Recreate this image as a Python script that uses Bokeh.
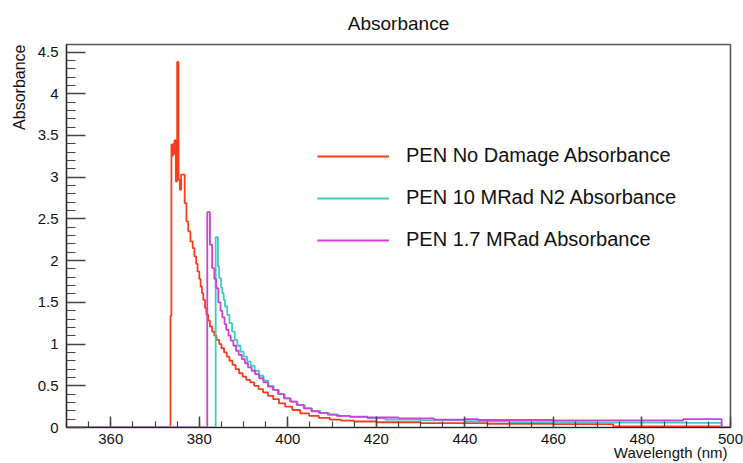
import numpy as np
from bokeh.plotting import figure
from bokeh.models import Range1d, FixedTicker, Legend, LegendItem, Title
from bokeh.embed import file_html
from bokeh.resources import INLINE

# ---- data (bin left edges in nm, absorbance per bin; last point closes the histogram) ----
red_nm = [350.0, 373.5, 373.7, 373.9, 374.1, 374.3, 374.4, 374.7, 375.0, 375.3, 375.6, 375.9,
          376.7, 377.1, 377.5, 378.0, 378.5, 378.9, 379.3, 379.6, 380.0, 380.3, 380.6, 380.9,
          381.3, 381.6, 382.0, 382.4, 382.9, 383.4, 383.9, 384.5, 385.0, 385.6, 386.2, 386.8,
          387.5, 388.2, 389.0, 389.8, 390.6, 391.5, 392.4, 393.4, 394.4, 395.5, 396.7, 398.0,
          399.4, 401.0, 402.8, 404.8, 407.0, 409.5, 412.0, 415.0, 420.0, 430.0, 445.0, 460.0,
          473.5, 498.0, 500.0]
red_abs = [0.0, 1.34, 3.39, 3.26, 3.40, 3.28, 3.44, 2.95, 4.38, 2.97, 2.85, 3.03,
           2.69, 2.47, 2.35, 2.23, 2.15, 2.05, 1.96, 1.87, 1.78, 1.69, 1.61, 1.53,
           1.43, 1.35, 1.28, 1.21, 1.15, 1.10, 1.05, 1.00, 0.95, 0.90, 0.85, 0.80,
           0.75, 0.70, 0.65, 0.61, 0.57, 0.54, 0.50, 0.46, 0.42, 0.38, 0.34, 0.29,
           0.25, 0.21, 0.17, 0.14, 0.115, 0.095, 0.082, 0.072, 0.063, 0.052, 0.045, 0.040,
           0.012, 0.0, 0.0]

cyan_nm = [350.0, 383.7, 384.2, 384.5, 384.9, 385.2, 385.5, 385.8, 386.3, 386.8, 387.4, 388.0,
           388.6, 389.3, 390.0, 390.8, 391.6, 392.5, 393.5, 394.5, 395.6, 396.8, 398.0, 399.3,
           400.7, 402.2, 403.8, 405.5, 407.3, 409.3, 411.5, 414.0, 418.0, 422.0, 430.0, 440.0,
           450.0, 470.0, 490.0, 498.0, 500.0]
cyan_abs = [0.0, 2.28, 1.93, 1.79, 1.68, 1.61, 1.53, 1.45, 1.35, 1.25, 1.15, 1.05,
            0.98, 0.91, 0.85, 0.79, 0.74, 0.68, 0.62, 0.56, 0.50, 0.45, 0.40, 0.35,
            0.31, 0.27, 0.23, 0.20, 0.175, 0.155, 0.14, 0.125, 0.11, 0.095, 0.085, 0.075,
            0.065, 0.060, 0.055, 0.0, 0.0]

mag_nm = [350.0, 381.8, 382.4, 382.9, 383.4, 383.8, 384.3, 384.8, 385.2, 385.7, 386.1, 386.6,
          387.1, 387.7, 388.3, 388.9, 389.6, 390.3, 391.0, 391.8, 392.6, 393.5, 394.5, 395.5,
          396.6, 397.8, 399.1, 400.5, 402.0, 403.6, 405.3, 407.0, 409.0, 411.0, 414.0, 418.0,
          425.0, 433.0, 440.0, 443.0, 460.0, 489.3, 498.0, 500.0]
mag_abs = [0.0, 2.58, 2.19, 1.91, 1.78, 1.67, 1.50, 1.40, 1.32, 1.24, 1.17, 1.10,
           1.04, 0.98, 0.92, 0.87, 0.82, 0.77, 0.72, 0.68, 0.64, 0.59, 0.54, 0.49,
           0.45, 0.40, 0.35, 0.31, 0.27, 0.23, 0.195, 0.175, 0.155, 0.14, 0.13, 0.12,
           0.11, 0.095, 0.10, 0.09, 0.085, 0.10, 0.0, 0.0]

series_names = ["PEN No Damage Absorbance", "PEN 10 MRad N2 Absorbance", "PEN 1.7 MRad Absorbance"]
series_colors = ["#fa3c1c", "#3ccdc2", "#d23ed8"]

x_ticks = [360, 380, 400, 420, 440, 460, 480, 500]
x_tick_labels = ["360", "380", "400", "420", "440", "460", "480", "500"]
y_ticks = [0, 0.5, 1, 1.5, 2, 2.5, 3, 3.5, 4, 4.5]
y_tick_labels = ["0", "0.5", "1", "1.5", "2", "2.5", "3", "3.5", "4", "4.5"]

FONT = "Liberation Sans"

p = figure(width=743, height=463, output_backend="svg", toolbar_location=None,
           x_range=Range1d(350, 500), y_range=Range1d(0, 4.59),
           min_border_left=66, min_border_right=13, min_border_top=43, min_border_bottom=36)
p.title.text = "Absorbance"
p.title.align = "center"
p.title.standoff = 21
p.title.text_font = FONT
p.title.text_font_size = "19px"
p.title.text_font_style = "normal"
p.title.text_color = "#111111"
p.grid.visible = False
p.background_fill_color = "white"
p.border_fill_color = "white"
p.outline_line_color = "#555555"
p.outline_line_width = 1.5

renderers = []
for xs, ys, col in [(red_nm, red_abs, series_colors[0]),
                    (cyan_nm, cyan_abs, series_colors[1]),
                    (mag_nm, mag_abs, series_colors[2])]:
    r = p.step(x=xs, y=ys, mode="after", line_color=col, line_width=1.8)
    renderers.append(r)

# axes
p.xaxis.ticker = FixedTicker(ticks=x_ticks, minor_ticks=list(np.arange(350, 501, 5)))
p.xaxis.major_label_overrides = {t: l for t, l in zip(x_ticks, x_tick_labels)}
p.yaxis.ticker = FixedTicker(ticks=y_ticks, minor_ticks=[round(v, 1) for v in np.arange(0, 4.6, 0.1)])
p.yaxis.major_label_overrides = {t: l for t, l in zip(y_ticks, y_tick_labels)}

for ax in (p.xaxis, p.yaxis):
    ax.major_tick_out = 0
    ax.minor_tick_out = 0
    ax.axis_line_color = "#222222"
    ax.axis_line_width = 1.2
    ax.major_tick_line_color = "#444444"
    ax.minor_tick_line_color = "#444444"
    ax.major_tick_line_width = 1.5
    ax.minor_tick_line_width = 1.2
    ax.major_label_text_font = FONT
    ax.major_label_text_font_size = "15px"
    ax.major_label_text_color = "#111111"
p.xaxis.major_tick_in = 11
p.xaxis.minor_tick_in = 6
p.xaxis.major_label_standoff = 6
p.yaxis.major_tick_in = 19
p.yaxis.minor_tick_in = 9
p.yaxis.major_label_standoff = 8

# axis titles (ROOT style: placed at the far end of each axis)
p.add_layout(Title(text="Wavelength (nm)", align="right", text_font=FONT, text_font_size="15px",
                   text_font_style="normal", text_color="#111111", standoff=-9, offset=3), "below")
p.add_layout(Title(text="Absorbance", align="right", text_font=FONT, text_font_size="16px",
                   text_font_style="normal", text_color="#111111", standoff=14), "left")

# legend
legend = Legend(items=[LegendItem(label=n, renderers=[r]) for n, r in zip(series_names, renderers)],
                location=(251, 176), orientation="vertical",
                glyph_width=72, glyph_height=20, label_height=20, label_standoff=17,
                spacing=19, padding=0, margin=0,
                border_line_color=None, background_fill_alpha=0,
                label_text_font=FONT, label_text_font_size="20px", label_text_color="#111111")
p.add_layout(legend, "center")

open("out.html", "w").write(file_html(p, INLINE))
